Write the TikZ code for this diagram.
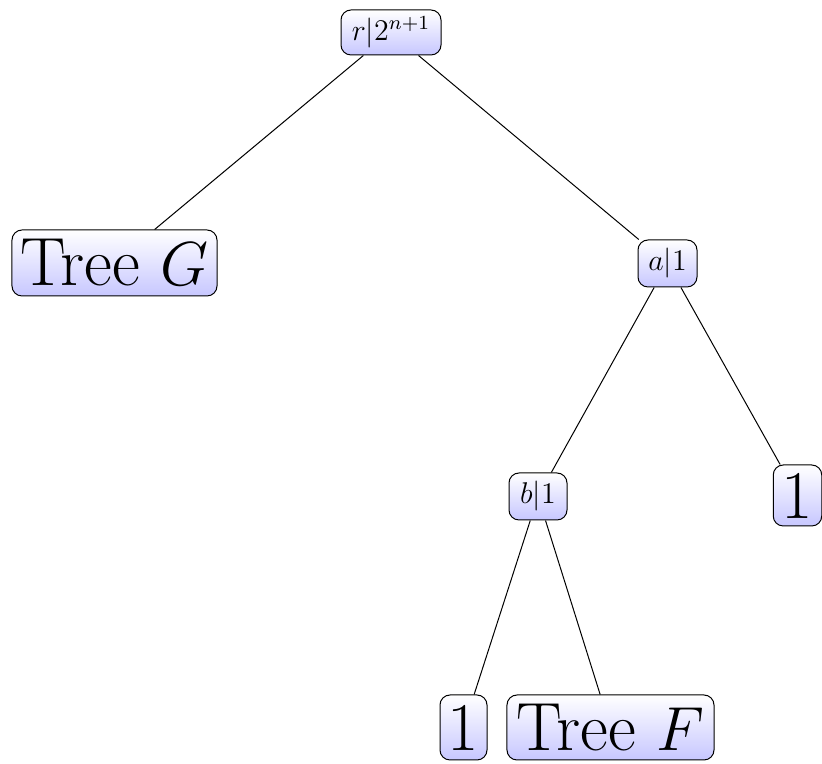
\documentclass[tikz,border=0pt]{standalone}
\begin{document}
\begin{tikzpicture}[x=0.4pt,y=-0.4pt,
  tnode/.style={draw=black, line width=0.4pt, rounded corners=4pt,
    top color=white, bottom color=blue!22, inner sep=0pt, anchor=center},
  small/.style={tnode, font=\fontsize{11.5pt}{13pt}\selectfont},
  big/.style={tnode, font=\fontsize{27.3pt}{30pt}\selectfont},
  edge/.style={draw=black, line width=0.4pt}]
\useasboundingbox (0,0) rectangle (822,764);
\node[small, minimum width=40pt, minimum height=18pt] (r) at (391,32.5) {$r|2^{n+1}$};
\node[big, minimum width=82pt, minimum height=26.4pt] (G) at (114.5,263) {Tree $G$};
\node[small, minimum width=23.6pt, minimum height=18.8pt] (a) at (667.5,263.5) {$a|1$};
\node[small, minimum width=23.2pt, minimum height=18.8pt] (b) at (538,496.5) {$b|1$};
\node[big, minimum width=19.4pt, minimum height=24.4pt] (o1) at (797.5,495.5) {1};
\node[big, minimum width=18.8pt, minimum height=26pt] (o2) at (463.5,727.5) {1};
\node[big, minimum width=82.8pt, minimum height=26pt] (F) at (610.5,727.5) {Tree $F$};
\draw[edge] (r) -- (G);
\draw[edge] (r) -- (a);
\draw[edge] (a) -- (b);
\draw[edge] (a) -- (o1);
\draw[edge] (b) -- (o2);
\draw[edge] (b) -- (F);
\end{tikzpicture}
\end{document}
